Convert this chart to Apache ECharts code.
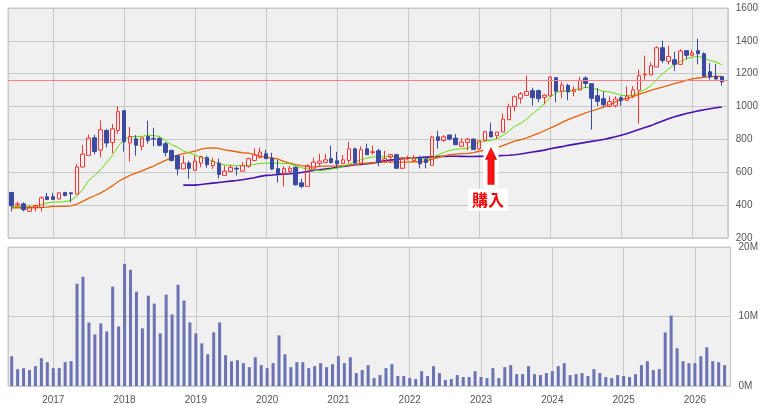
<!DOCTYPE html>
<html>
<head>
<meta charset="utf-8">
<script src="https://cdn.jsdelivr.net/npm/echarts@6/dist/echarts.min.js"></script>
<style>
html,body{margin:0;padding:0;background:#fff;}
#main{width:761px;height:405px;}
</style>
</head>
<body>
<div id="main"></div>
<script>
// monthly candles, 2016-06 .. 2026-06
var months = [
	'2016-06','2016-07','2016-08','2016-09','2016-10','2016-11','2016-12',
	'2017-01','2017-02','2017-03','2017-04','2017-05','2017-06','2017-07','2017-08','2017-09','2017-10','2017-11','2017-12',
	'2018-01','2018-02','2018-03','2018-04','2018-05','2018-06','2018-07','2018-08','2018-09','2018-10','2018-11','2018-12',
	'2019-01','2019-02','2019-03','2019-04','2019-05','2019-06','2019-07','2019-08','2019-09','2019-10','2019-11','2019-12',
	'2020-01','2020-02','2020-03','2020-04','2020-05','2020-06','2020-07','2020-08','2020-09','2020-10','2020-11','2020-12',
	'2021-01','2021-02','2021-03','2021-04','2021-05','2021-06','2021-07','2021-08','2021-09','2021-10','2021-11','2021-12',
	'2022-01','2022-02','2022-03','2022-04','2022-05','2022-06','2022-07','2022-08','2022-09','2022-10','2022-11','2022-12',
	'2023-01','2023-02','2023-03','2023-04','2023-05','2023-06','2023-07','2023-08','2023-09','2023-10','2023-11','2023-12',
	'2024-01','2024-02','2024-03','2024-04','2024-05','2024-06','2024-07','2024-08','2024-09','2024-10','2024-11','2024-12',
	'2025-01','2025-02','2025-03','2025-04','2025-05','2025-06','2025-07','2025-08','2025-09','2025-10','2025-11','2025-12',
	'2026-01','2026-02','2026-03','2026-04','2026-05','2026-06'
];

var opens = [
	477,402,408,362,388,386,451,
	451,437,477,475,467,632,703,810,735,855,782,855,
	975,778,804,758,818,806,806,774,733,701,620,656,
	612,656,689,640,656,581,605,624,607,636,672,691,
	713,685,622,591,605,630,536,514,620,654,660,683,
	670,654,672,743,656,743,721,731,666,693,707,624,
	684,672,689,680,642,816,794,827,808,758,782,802,
	743,794,847,823,845,920,1001,1050,1068,1097,1097,1056,
	1064,1176,1093,1129,1091,1101,1174,1139,1066,1048,1001,1005,
	1054,1038,1064,1099,1192,1192,1241,1358,1275,1285,1257,1340,
	1312,1340,1322,1212,1184,1182
];
var closes = [
	396,408,372,386,398,445,435,
	435,475,459,469,632,711,808,727,859,778,865,969,
	785,818,764,810,794,802,764,721,672,620,656,624,
	668,695,646,666,587,607,630,620,640,683,705,723,
	683,620,591,622,624,524,514,640,662,668,676,660,
	652,676,743,656,737,707,725,660,683,707,624,687,
	690,689,652,660,815,794,816,802,768,784,802,739,
	792,847,815,845,924,1001,1060,1078,1091,1054,1048,1070,
	1180,1093,1131,1089,1103,1160,1141,1050,1032,1011,1030,1046,
	1036,1064,1101,1188,1196,1249,1358,1281,1304,1257,1338,1312,
	1326,1322,1184,1180,1168,1151
];
var lows = [
	362,392,362,362,362,362,435,
	435,437,453,417,467,632,703,709,691,752,717,835,
	727,666,701,733,774,758,758,697,666,581,620,559,
	608,630,628,620,563,581,599,581,607,628,668,685,
	683,615,538,514,591,520,502,514,620,636,660,652,
	628,654,656,648,652,707,707,636,660,656,624,624,
	672,670,624,624,642,743,786,794,768,758,733,739,
	737,794,815,802,845,920,971,1018,1068,1005,1026,1013,
	1064,1026,1050,1038,1062,1101,1113,859,1003,997,997,995,
	1005,1038,1050,896,1164,1192,1241,1265,1257,1216,1253,1289,
	1306,1257,1180,1164,1164,1127
];
var highs = [
	481,421,417,398,404,453,475,
	473,479,481,479,650,766,829,829,916,863,894,1001,
	975,875,827,810,914,871,814,784,737,707,701,670,
	701,701,701,689,683,640,646,636,662,689,745,750,
	737,719,676,636,638,636,561,648,689,713,713,762,
	725,705,786,750,758,774,762,743,731,713,713,693,
	701,705,701,693,823,853,827,827,833,808,810,806,
	792,853,902,845,957,1018,1068,1089,1188,1115,1103,1076,
	1184,1176,1151,1139,1123,1180,1184,1139,1113,1093,1062,1062,
	1062,1123,1125,1225,1310,1269,1367,1401,1371,1334,1350,1340,
	1346,1413,1330,1265,1261,1182
];
// volume, millions
var volumes = [
	4.29,2.43,2.57,2.29,2.86,4.0,3.43,
	2.57,2.57,3.43,3.57,14.71,15.71,9.14,7.43,9.0,7.86,14.29,8.57,
	17.57,16.71,13.57,8.29,13.0,11.86,7.57,13.14,10.29,14.57,12.29,9.14,
	7.57,6.14,4.57,7.71,9.14,4.43,3.57,3.71,3.29,2.71,4.14,3.0,
	2.57,3.29,7.29,4.57,2.71,3.43,3.43,2.57,2.86,3.29,2.71,3.14,
	4.29,3.29,4.14,1.86,2.29,3.0,1.14,1.57,2.57,3.14,1.43,1.43,
	1.14,1.0,2.14,1.43,2.86,1.86,0.86,1.0,1.57,1.29,1.29,2.14,
	1.29,1.14,2.57,1.14,2.71,3.0,1.71,1.71,2.86,1.71,1.57,1.86,
	2.14,2.86,3.29,1.57,1.71,1.86,1.43,2.43,1.86,1.29,1.14,1.57,
	1.43,1.29,1.71,3.0,3.57,2.29,2.43,7.71,10.14,5.43,3.57,3.29,
	3.29,4.29,5.57,3.57,3.43,3.0
];
// moving averages (short / mid / long)
var maShort = [
	390,392,394,394,396,404,413,
	419,419,421,429,455,495,550,581,616,658,701,758,
	802,818,818,818,827,823,818,792,768,753,730,718,
	705,690,680,668,652,645,642,640,640,642,648,654,
	656,656,656,654,652,638,628,620,614,610,614,620,
	626,636,650,664,676,687,693,695,695,697,691,687,
	685,685,681,681,689,705,720,733,740,743,745,765,
	783,790,795,805,825,850,880,898,924,955,985,1017,
	1056,1086,1093,1095,1099,1109,1117,1113,1103,1093,1089,1080,
	1068,1066,1070,1086,1103,1127,1164,1200,1229,1255,1275,1289,
	1300,1306,1293,1281,1271,1255
];
var maMid = [
	384,384,384,384,384,386,388,
	392,392,392,396,406,423,441,457,473,494,517,544,
	563,581,595,609,624,638,656,672,689,703,713,721,
	729,741,747,749,745,737,731,725,719,717,709,697,
	691,687,680,666,656,646,640,636,632,636,638,638,
	638,640,644,648,652,656,658,660,662,662,662,662,
	662,664,664,668,680,690,698,707,711,713,715,720,
	728,735,742,750,762,776,790,798,810,823,837,853,
	869,886,904,920,934,948,961,973,985,997,1011,1028,
	1042,1050,1060,1074,1086,1099,1109,1119,1129,1139,1149,1160,
	1168,1174,1178,1182,1184,1184
];
var maLong = [
	null,null,null,null,null,null,null,
	null,null,null,null,null,null,null,null,null,null,null,null,
	null,null,null,null,null,null,null,null,null,null,522,522,
	522,526,530,534,538,542,546,550,555,561,567,575,
	581,583,587,589,591,595,599,605,611,615,620,624,
	630,636,640,646,648,652,656,662,670,674,678,683,
	685,687,690,692,694,696,697,698,698,697,696,696,
	697,698,699,700,702,704,707,711,717,723,729,735,
	743,750,756,764,770,776,782,788,794,800,808,816,
	826,836,848,860,872,884,898,912,926,938,948,958,
	966,974,981,987,993,997
];

var refPrice = 1160;       // red horizontal line
var buyMonth = '2023-03';  // 購入 marker
var buyArrowPrice = 640;
var buyLabelPrice = 433;

var axisFont = {color: '#555', fontSize: 10, fontFamily: 'Liberation Sans, Arial, sans-serif'};
var gridLineColor = '#c8c8c8';

function toYear(m) {
	var p = m.split('-');
	return +p[0] + (p[1] - 1) / 12;
}

var xs = months.map(toYear);
var candleData = [], volData = [], shortData = [], midData = [], longData = [];
for (var i = 0; i < months.length; i++) {
	candleData.push([xs[i], opens[i], closes[i], lows[i], highs[i]]);
	volData.push([xs[i], volumes[i]]);
	shortData.push([xs[i], maShort[i]]);
	midData.push([xs[i], maMid[i]]);
	longData.push([xs[i], maLong[i]]);
}
var buyX = toYear(buyMonth);

function xAxisOf(gridIndex, showLabel) {
	return {
		type: 'value',
		gridIndex: gridIndex,
		min: 2016.365,
		max: 2026.5,
		splitNumber: 10,
		axisLine: {show: false},
		axisTick: {show: false},
		splitLine: {show: true, lineStyle: {color: gridLineColor, width: 1}},
		axisLabel: Object.assign({
			show: showLabel,
			margin: 9,
			showMinLabel: false,
			showMaxLabel: false,
			formatter: function (v) {
				return Math.abs(v - Math.round(v)) < 1e-6 ? String(Math.round(v)) : '';
			}
		}, axisFont)
	};
}

var myChart = echarts.init(document.getElementById('main'));
var option = {
	animation: false,
	backgroundColor: '#ffffff',
	grid: [
		{left: 8, right: 30, top: 8, height: 230, show: true, backgroundColor: '#f0f0f0', borderColor: gridLineColor, borderWidth: 1},
		{left: 8, right: 30, top: 247, height: 140, show: true, backgroundColor: '#f0f0f0', borderColor: gridLineColor, borderWidth: 1}
	],
	xAxis: [xAxisOf(0, false), xAxisOf(1, true)],
	yAxis: [
		{
			type: 'value', gridIndex: 0, position: 'right',
			min: 200, max: 1600, interval: 200,
			axisLine: {show: false}, axisTick: {show: false},
			splitLine: {lineStyle: {color: gridLineColor}},
			axisLabel: Object.assign({margin: 8, formatter: function (v) { return String(v); }}, axisFont)
		},
		{
			type: 'value', gridIndex: 1, position: 'right',
			min: 0, max: 20, interval: 10,
			axisLine: {show: false}, axisTick: {show: false},
			splitLine: {lineStyle: {color: gridLineColor}},
			axisLabel: Object.assign({margin: 8, formatter: '{value}M'}, axisFont)
		}
	],
	series: [
		{
			name: 'MA long', type: 'line', xAxisIndex: 0, yAxisIndex: 0,
			data: longData, showSymbol: false, silent: true,
			lineStyle: {color: '#4a10b0', width: 1.6}
		},
		{
			name: 'MA mid', type: 'line', xAxisIndex: 0, yAxisIndex: 0,
			data: midData, showSymbol: false, silent: true,
			lineStyle: {color: '#e8620c', width: 1.3}
		},
		{
			name: 'MA short', type: 'line', xAxisIndex: 0, yAxisIndex: 0,
			data: shortData, showSymbol: false, silent: true,
			lineStyle: {color: '#5fe000', width: 1}
		},
		{
			name: 'price', type: 'candlestick', xAxisIndex: 0, yAxisIndex: 0,
			data: candleData,
			encode: {x: 0, y: [1, 2, 3, 4]},
			barWidth: 4,
			z: 3,
			itemStyle: {
				color: 'rgba(0,0,0,0)',
				color0: '#3b4a9e',
				borderColor: '#ff3333',
				borderColor0: '#3b4a9e',
				borderWidth: 1
			},
			markLine: {
				silent: true,
				symbol: 'none',
				label: {show: false},
				lineStyle: {color: '#ff8080', width: 1, type: 'solid'},
				data: [{yAxis: refPrice}]
			},
			markPoint: {
				silent: true,
				data: [
					{
						coord: [buyX, buyArrowPrice],
						symbol: 'rect', symbolSize: [15, 44],
						itemStyle: {color: '#ffffff'},
						label: {show: false}
					},
					{
						coord: [buyX, buyArrowPrice],
						symbol: 'path://M6,0 L12,13 L9.5,13 L9.5,38 L2.5,38 L2.5,13 L0,13 Z',
						symbolSize: [12, 38],
						itemStyle: {
							color: new echarts.graphic.LinearGradient(0, 0, 1, 0, [
								{offset: 0, color: '#e00000'},
								{offset: 0.5, color: '#ff1a1a'},
								{offset: 1, color: '#d00000'}
							])
						},
						label: {show: false}
					},
					{
						coord: [buyX, buyLabelPrice],
						symbol: 'rect', symbolSize: [40, 22], symbolOffset: [-3, 0],
						itemStyle: {color: '#ffffff'},
						label: {
							show: true, position: 'inside', formatter: '購入',
							color: '#ff0000', fontSize: 16, fontWeight: 'bold',
							fontFamily: 'Noto Sans CJK JP'
						}
					}
				]
			}
		},
		{
			name: 'volume', type: 'bar', xAxisIndex: 1, yAxisIndex: 1,
			data: volData, barWidth: 3,
			itemStyle: {color: '#6b73b3'}
		}
	]
};
myChart.setOption(option);
</script>
</body>
</html>
